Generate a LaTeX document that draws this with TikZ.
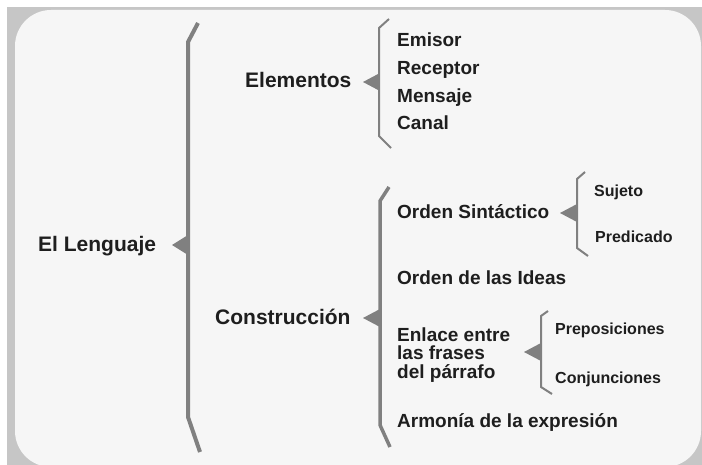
\documentclass[tikz,border=0pt]{standalone}
\usepackage{fontspec}
\setmainfont{Liberation Sans}
\definecolor{shadowgray}{HTML}{C6C6C6}
\definecolor{panelgray}{HTML}{F6F6F6}
\definecolor{bracegray}{HTML}{808080}
\definecolor{ink}{HTML}{1E1E1E}
\tikzset{
  toptext/.style  = { anchor=base west, inner sep=0pt, text=ink, font=\fontsize{21}{24}\selectfont\bfseries },
  itemtext/.style = { anchor=base west, inner sep=0pt, text=ink, font=\fontsize{19}{18.3}\selectfont\bfseries },
  subtext/.style  = { anchor=base west, inner sep=0pt, text=ink, font=\fontsize{16}{19}\selectfont\bfseries },
  brace/.style    = { draw=bracegray, line width=#1 },
  brace/.default  = 2pt,
  pointer/.style  = { fill=bracegray }
}

\begin{document}
\begin{tikzpicture}[x=1pt, y=-1pt]
    \useasboundingbox (0,0) rectangle (702,465);
    \fill[white] (0,0) rectangle (702,465);
    \fill[shadowgray] (7,7) rectangle (702,465);
    \fill[panelgray, rounded corners=36pt] (15,10) rectangle (701,467);

    \node[toptext] (lenguaje) at (38,252) {El Lenguaje};
    \draw[brace=4pt] (198,23) -- (188,42) -- (188,417) -- (200,452);
    \fill[pointer] (172,245) -- (188,235) -- (188,255) -- cycle;

    \node[toptext] (elementos) at (245,88) {Elementos};
    \draw[brace] (389,19) -- (379,28) -- (379,136) -- (391,148);
    \fill[pointer] (363,82) -- (379,73.5) -- (379,90.5) -- cycle;

    \node[itemtext] (emisor)   at (397,47)  {Emisor};
    \node[itemtext] (receptor) at (397,75)  {Receptor};
    \node[itemtext] (mensaje)  at (397,102.5) {Mensaje};
    \node[itemtext] (canal)    at (397,130) {Canal};

    \node[toptext] (construccion) at (215,324) {Construcción};
    \draw[brace=3.5pt] (389,187) -- (380,201) -- (380,425) -- (390,447);
    \fill[pointer] (363,318) -- (380,309) -- (380,327) -- cycle;

    \node[itemtext] (sintactico) at (397,218.5) {Orden Sintáctico};
    \draw[brace] (585,172) -- (577,179) -- (577,248) -- (588,256);
    \fill[pointer] (560,213) -- (577,204) -- (577,222) -- cycle;
    \node[subtext] (sujeto)    at (594,196.5) {Sujeto};
    \node[subtext] (predicado) at (595,243)   {Predicado};

    \node[itemtext] (ideas) at (397,285) {Orden de las Ideas};

    % base of a multi-line node sits on its last line
    \node[itemtext, align=left] (enlace) at (397,378) {Enlace entre\\las frases\\del párrafo};
    \draw[brace] (548,311) -- (541,316) -- (541,387) -- (552,394);
    \fill[pointer] (524,352) -- (541,343) -- (541,361) -- cycle;
    \node[subtext] (preposiciones) at (555,334.5) {Preposiciones};
    \node[subtext] (conjunciones)  at (555,383)   {Conjunciones};

    \node[itemtext] (armonia) at (397,427) {Armonía de la expresión};
\end{tikzpicture}
\end{document}
